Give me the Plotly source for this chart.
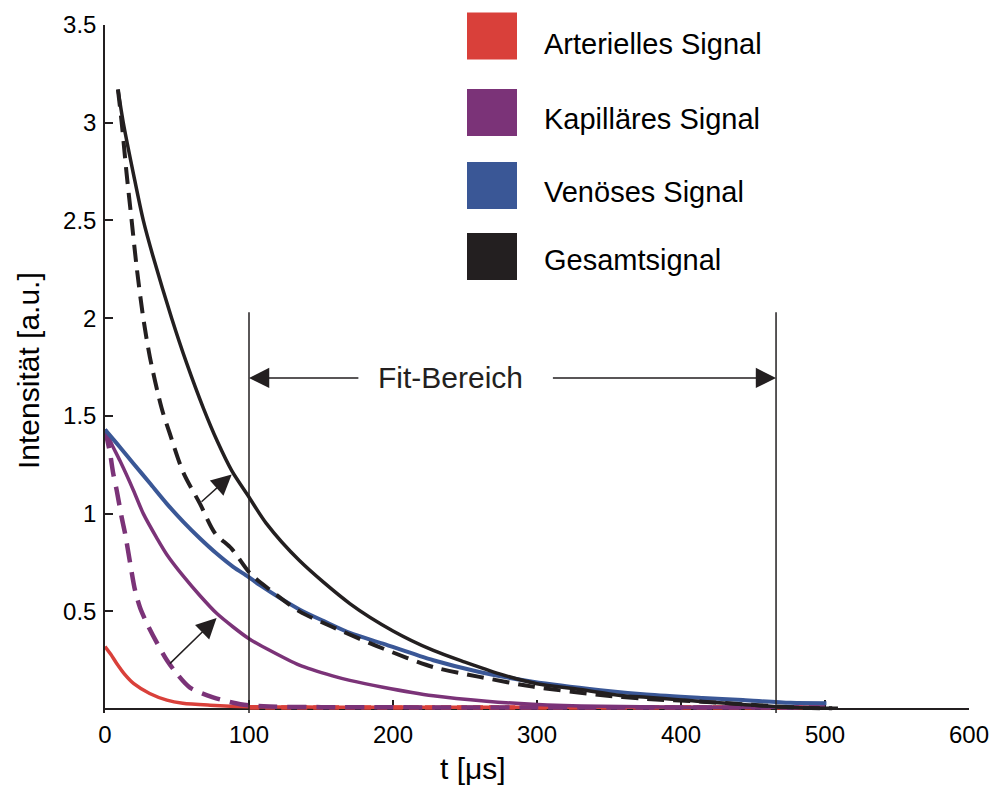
import plotly.graph_objects as go

# ---- measured signal curves: time t [µs] and intensity [a.u.] ----
t_art = [0, 4, 8, 14, 20, 31, 43, 54, 73, 100, 150, 200, 300, 400, 500]
art = [0.32, 0.28, 0.235, 0.175, 0.13, 0.08, 0.046, 0.03, 0.02, 0.012, 0.01, 0.01, 0.01, 0.01, 0.01]

t_art_fit = [100, 200, 300, 400, 500]
art_fit = [0.008, 0.008, 0.008, 0.008, 0.008]

t_cap = [0, 5, 10.4, 19.7, 26.6, 36, 43, 54.4, 66, 77.5, 89, 100, 112, 135, 158, 170,
         193, 228, 265, 297, 344, 400, 450, 500]
cap = [1.43, 1.35, 1.27, 1.12, 1.0, 0.875, 0.79, 0.68, 0.58, 0.49, 0.42, 0.36, 0.31, 0.225,
       0.17, 0.147, 0.112, 0.068, 0.04, 0.025, 0.014, 0.01, 0.01, 0.01]

t_cap_fit = [0, 3.5, 5.6, 8.1, 11.6, 13.9, 17.4, 20.8, 24.3, 29, 36, 43, 50, 59, 75, 94,
             110, 150, 200, 300, 400, 500]
cap_fit = [1.43, 1.31, 1.21, 1.12, 0.98, 0.90, 0.75, 0.61, 0.52, 0.44, 0.34, 0.25, 0.18,
           0.11, 0.06, 0.025, 0.014, 0.01, 0.009, 0.008, 0.008, 0.008]

t_ven = [0, 10.4, 19.7, 31.2, 43, 54.4, 66, 77.5, 89, 99.5, 107.6, 135, 152, 170, 193, 228,
         260, 297, 344, 376, 415, 443, 476, 501]
ven = [1.43, 1.34, 1.257, 1.155, 1.05, 0.958, 0.873, 0.796, 0.728, 0.677, 0.634, 0.51, 0.45,
       0.39, 0.335, 0.25, 0.19, 0.14, 0.097, 0.075, 0.057, 0.046, 0.032, 0.03]

t_tot = [9, 12.7, 19.7, 26.6, 33.6, 46.3, 56.7, 68.3, 78, 88, 99.5, 112, 135, 170, 200, 228,
         250, 274, 300, 330, 358, 376, 400, 415, 443, 466, 490, 509]
tot = [3.17, 3.0, 2.74, 2.5, 2.31, 2.0, 1.77, 1.54, 1.37, 1.22, 1.09, 0.95, 0.76, 0.54, 0.40,
       0.30, 0.24, 0.18, 0.13, 0.10, 0.07, 0.06, 0.047, 0.038, 0.024, 0.012, 0.006, 0.004]

t_tot_fit = [9, 11.6, 15, 18.5, 22, 26.6, 31.2, 39.3, 45, 54.4, 66, 76.4, 88, 100.7, 114.6,
             135, 158, 193, 228, 260, 297, 344, 376, 415, 443, 466, 490, 505]
tot_fit = [3.17, 3.0, 2.74, 2.5, 2.26, 2.0, 1.80, 1.54, 1.41, 1.21, 1.05, 0.90, 0.82, 0.695,
           0.61, 0.50, 0.42, 0.31, 0.215, 0.165, 0.115, 0.072, 0.052, 0.038, 0.025, 0.014,
           0.006, 0.004]

series_names = ["Arterielles Signal", "Kapilläres Signal", "Venöses Signal", "Gesamtsignal"]
series_colors = ["#D9403A", "#7B3378", "#3A5796", "#231F20"]

x_ticks = [0, 100, 200, 300, 400, 500, 600]
y_ticks = [0, 0.5, 1, 1.5, 2, 2.5, 3, 3.5]
y_ticktext = ["", "0.5", "1", "1.5", "2", "2.5", "3", "3.5"]

fit_range = [100, 466]
fit_label = "Fit-Bereich"

# arrows pointing from the dashed curves to the solid ones (tail t, tail I, head t, head I)
shift_arrows = [(66, 1.054, 88, 1.20), (44, 0.225, 77.5, 0.466)]

FONT = "Liberation Sans, Arial, sans-serif"
INK = "#231F20"
RED, PURPLE, BLUE, BLACK = series_colors

fig = go.Figure()

def add_line(t, v, color, width, dash="solid"):
    fig.add_trace(go.Scatter(x=t, y=v, mode="lines", showlegend=False, hoverinfo="skip",
                             line=dict(color=color, width=width, dash=dash,
                                       shape="spline", smoothing=0.8)))

add_line(t_art_fit, art_fit, RED, 4.5, "10px,6px")
add_line(t_art, art, RED, 3.5)
add_line(t_cap, cap, PURPLE, 3.5)
add_line(t_cap_fit, cap_fit, PURPLE, 4.5, "19px,10px")
add_line(t_ven, ven, BLUE, 4)
add_line(t_tot, tot, BLACK, 3.5)
add_line(t_tot_fit, tot_fit, BLACK, 4, "17px,9px")

y_lo, y_hi = -0.02, 3.5

# boundaries of the fit range
for tb in fit_range:
    fig.add_shape(type="line", xref="x", yref="y", x0=tb, x1=tb, y0=y_lo, y1=2.03,
                  line=dict(color=INK, width=1.5), layer="above")

arrow_y = 1.694
fit_mid = 240
# double arrow with the label in its gap
fig.add_annotation(x=fit_range[0], y=arrow_y, ax=177, ay=arrow_y, xref="x", yref="y",
                   axref="x", ayref="y", text="", showarrow=True, arrowhead=2,
                   arrowsize=2.7, arrowwidth=1.5, arrowcolor=INK, standoff=0)
fig.add_annotation(x=fit_range[1], y=arrow_y, ax=310, ay=arrow_y, xref="x", yref="y",
                   axref="x", ayref="y", text="", showarrow=True, arrowhead=2,
                   arrowsize=2.7, arrowwidth=1.5, arrowcolor=INK, standoff=0)
fig.add_annotation(x=fit_mid, y=arrow_y, xref="x", yref="y", text=fit_label, showarrow=False,
                   font=dict(family=FONT, size=30, color=INK), xanchor="center", yanchor="middle")

for (t0, v0, t1, v1) in shift_arrows:
    fig.add_annotation(x=t1, y=v1, ax=t0, ay=v0, xref="x", yref="y", axref="x", ayref="y",
                       text="", showarrow=True, arrowhead=2, arrowsize=2.7, arrowwidth=1.5,
                       arrowcolor=INK, standoff=0)

# legend: colour squares with labels
W, H, L, B = 864, 688, 105, 713
def px(xp):
    return (xp - L) / W
def py(yp):
    return (B - yp) / H

sq_centers = [36, 112.5, 185.5, 256.5]
txt_centers = [44, 119, 192, 260]
for name, color, yc, yt in zip(series_names, series_colors, sq_centers, txt_centers):
    fig.add_shape(type="rect", xref="paper", yref="paper", x0=px(467), x1=px(517),
                  y0=py(yc + 23.5), y1=py(yc - 23.5), fillcolor=color, line=dict(width=0))
    fig.add_annotation(x=px(542), y=py(yt), xref="paper", yref="paper", text=name,
                       showarrow=False, xanchor="left", yanchor="middle",
                       font=dict(family=FONT, size=29, color="black"))

# axis titles
fig.add_annotation(x=px(28), y=py(371), xref="paper", yref="paper", text="Intensität [a.u.]",
                   textangle=-90, showarrow=False, xanchor="center", yanchor="middle",
                   font=dict(family=FONT, size=30, color="black"))
fig.add_annotation(x=px(473), y=py(768), xref="paper", yref="paper", text="t [μs]",
                   showarrow=False, xanchor="center", yanchor="middle",
                   font=dict(family=FONT, size=30, color="black"))

fig.update_layout(
    width=996, height=787,
    margin=dict(l=105, r=27, t=25, b=74, autoexpand=False),
    paper_bgcolor="white", plot_bgcolor="white",
    font=dict(family=FONT, color="black"),
    xaxis=dict(range=[0, 600], tickvals=x_ticks, ticks="inside", ticklen=8, tickwidth=1.5,
               tickcolor=INK, showline=True, linecolor=INK, linewidth=1.5, showgrid=False,
               zeroline=False, anchor="free", position=(0 - y_lo) / (y_hi - y_lo),
               layer="below traces",
               tickfont=dict(size=24, family=FONT, color="black"), ticklabelstandoff=4),
    yaxis=dict(range=[y_lo, y_hi], tickvals=y_ticks, ticktext=y_ticktext, ticks="inside",
               ticklen=8, tickwidth=1.5, tickcolor=INK, showline=True, linecolor=INK,
               linewidth=1.5, showgrid=False, zeroline=False, layer="below traces",
               tickfont=dict(size=24, family=FONT, color="black"), ticklabelstandoff=2),
)

fig.write_html("out.html")
